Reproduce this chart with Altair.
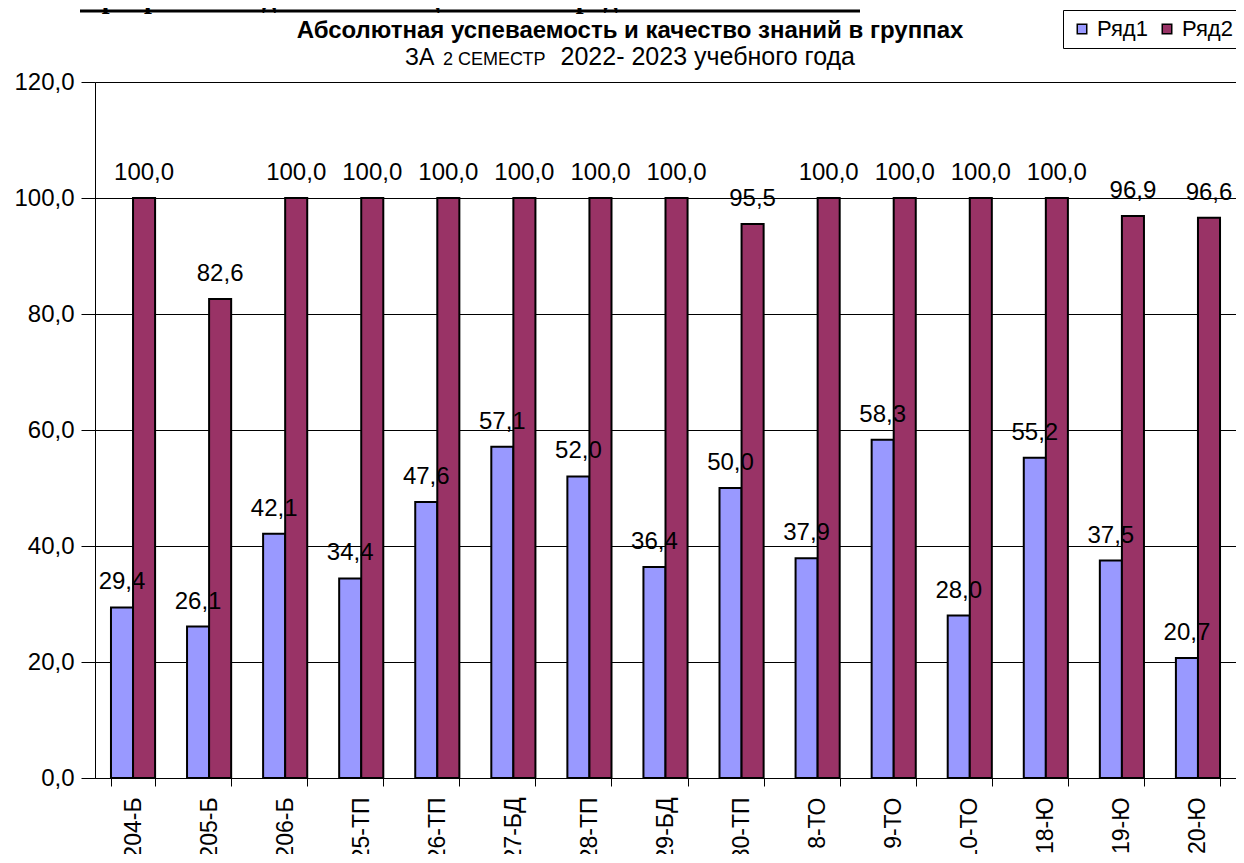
import altair as alt
import pandas as pd

categories = ["204-Б", "205-Б", "206-Б", "25-ТП", "26-ТП", "27-БД", "28-ТП", "29-БД",
              "30-ТП", "8-ТО", "9-ТО", "10-ТО", "18-Ю", "19-Ю", "20-Ю"]
series_names = ["Ряд1", "Ряд2"]
row1 = [29.4, 26.1, 42.1, 34.4, 47.6, 57.1, 52.0, 36.4, 50.0, 37.9, 58.3, 28.0, 55.2, 37.5, 20.7]
row2 = [100.0, 82.6, 100.0, 100.0, 100.0, 100.0, 100.0, 100.0, 95.5, 100.0, 100.0, 100.0, 100.0, 96.9, 96.6]
y_ticks = [0, 20, 40, 60, 80, 100, 120]

top_text = ["Программа подготовки специалистов среднего звена."]
title_text = ["Абсолютная успеваемость и качество знаний в  группах"]
sub_a = ["ЗА"]
sub_b = ["2 СЕМЕСТР"]
sub_c = ["2022- 2023 учебного года"]

rows = []
for c, a, b in zip(categories, row1, row2):
    rows.append({"cat": c, "series": series_names[0], "value": a})
    rows.append({"cat": c, "series": series_names[1], "value": b})
df = pd.DataFrame(rows)

FONT = "Liberation Sans"

x_enc = alt.X("cat:N", sort=categories, title=None,
              scale=alt.Scale(paddingInner=0.42, paddingOuter=0.21),
              axis=alt.Axis(labelAngle=270, labelAlign="right", labelBaseline="middle",
                            labelFontSize=23, labelFont=FONT, labelColor="black",
                            labelPadding=11, tickSize=8, tickColor="black",
                            domainColor="black", tickBand="extent", grid=False))
xoff = alt.XOffset("series:N", sort=series_names, scale=alt.Scale(paddingInner=0, paddingOuter=0))
y_enc = alt.Y("value:Q", title=None,
              scale=alt.Scale(domain=[0, 120], nice=False),
              axis=alt.Axis(values=y_ticks, labelExpr="replace(format(datum.value, '.1f'), '.', ',')",
                            labelFontSize=24, labelFont=FONT, labelColor="black",
                            tickSize=14, labelPadding=7, tickColor="black", domainColor="black",
                            grid=True, gridColor="black", gridWidth=1, gridOpacity=1))

base = alt.Chart(df).encode(x=x_enc, xOffset=xoff, y=y_enc)

bars = base.mark_bar(stroke="black", strokeWidth=2).encode(
    color=alt.Color("series:N", sort=series_names,
                    scale=alt.Scale(domain=series_names, range=["#9999FF", "#993366"]),
                    legend=alt.Legend(orient="none", legendX=968, legendY=-72, direction="horizontal",
                                      title=None, strokeColor="black", fillColor="white",
                                      padding=8, symbolType="square", symbolSize=90,
                                      symbolStrokeColor="black", symbolStrokeWidth=1.5,
                                      labelFontSize=22, labelFont=FONT, labelColor="black",
                                      columnPadding=8, labelOffset=4))
)

labels = base.transform_calculate(
    lab="replace(format(datum.value, '.1f'), '.', ',')"
).mark_text(fontSize=24, font=FONT, color="black", baseline="alphabetic", dy=-18).encode(
    text="lab:N"
)

def txt(lst, x, y, size, weight="normal", font=FONT, align="left"):
    return alt.Chart(pd.DataFrame({"t": lst})).mark_text(
        fontSize=size, fontWeight=weight, font=font, align=align, baseline="alphabetic", color="black"
    ).encode(x=alt.value(x), y=alt.value(y), text="t:N")

top = txt(top_text, -15, -74, 28, "bold", "Liberation Serif")
underline = alt.Chart(pd.DataFrame({"t": top_text})).mark_rule(color="black", strokeWidth=3).encode(
    x=alt.value(-15), x2=alt.value(765), y=alt.value(-71)
)
title = txt(title_text, 535, -44, 24, "bold", align="center")
s1 = txt(sub_a, 310, -17, 23)
s2 = txt(sub_b, 348, -17, 18)
s3 = txt(sub_c, 760, -17, 25, align="right")

chart = alt.layer(bars, labels, top, underline, title, s1, s2, s3).properties(
    width=1141, height=696,
    autosize=alt.AutoSizeParams(type="none"),
    padding={"left": 87, "top": 74, "right": 0, "bottom": 76},
).configure_view(stroke=None).configure(background="white")

chart.save("out.html", embed_options={"renderer": "svg", "actions": False})
